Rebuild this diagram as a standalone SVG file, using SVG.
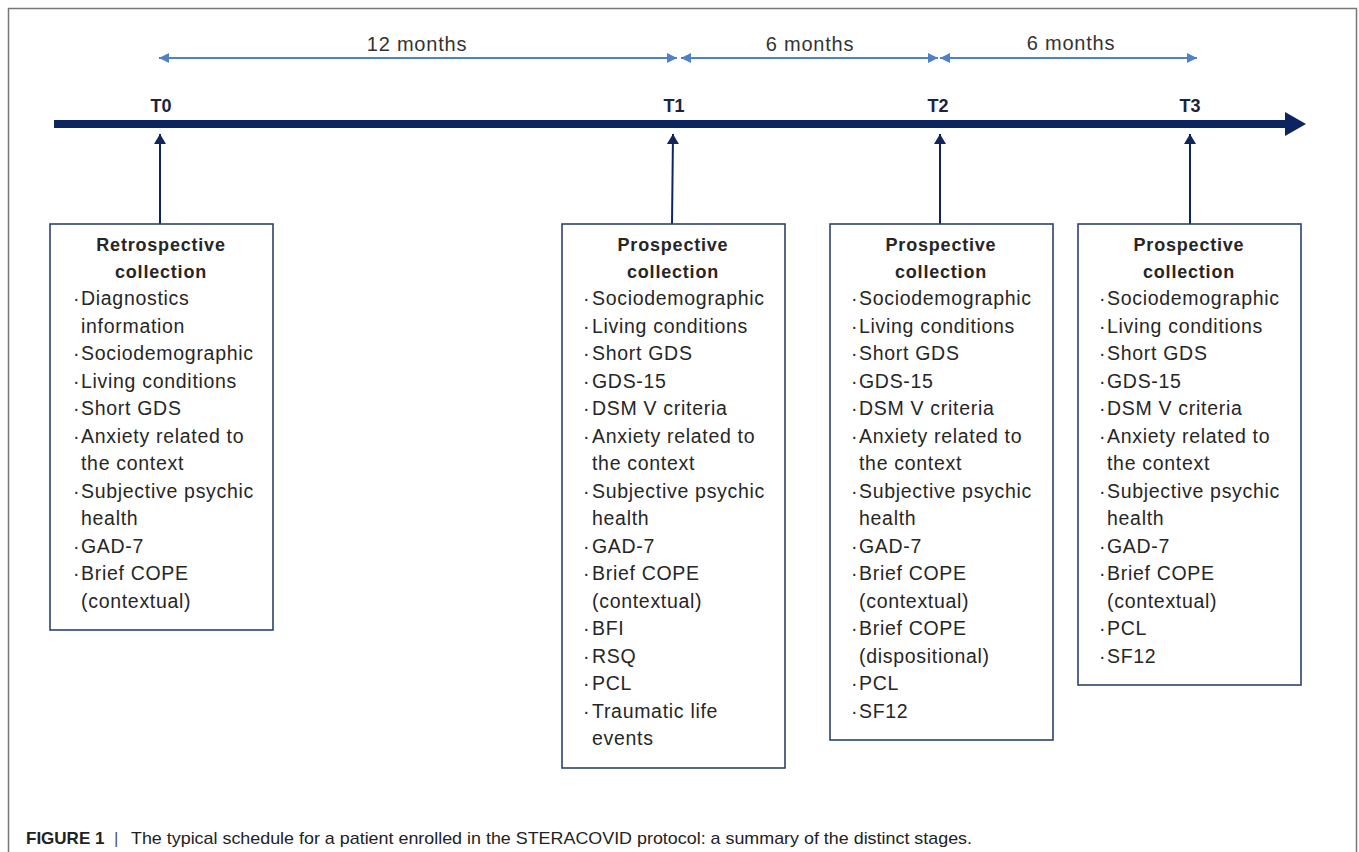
<svg xmlns="http://www.w3.org/2000/svg" width="1359" height="852" viewBox="0 0 1359 852">
<defs>
<marker id="dim" viewBox="0 0 10 10" refX="10" refY="5" markerWidth="10" markerHeight="10" markerUnits="userSpaceOnUse" orient="auto-start-reverse"><path d="M0,0 L10,5 L0,10 Z" fill="#4f81c7"/></marker>
<marker id="up" viewBox="0 0 10 12" refX="10" refY="6" markerWidth="12" markerHeight="12" markerUnits="userSpaceOnUse" orient="auto"><path d="M0,0 L10,6 L0,12 Z" fill="#10265a"/></marker>
<style>
.box{fill:#fff;stroke:#2c426e;stroke-width:1.6}
.t{font-family:"Liberation Sans",Arial,sans-serif;font-size:19.5px;fill:#262626;letter-spacing:0.7px}
.b{font-family:"Liberation Sans",Arial,sans-serif;font-size:19.5px;fill:#262626}
.h{font-family:"Liberation Sans",Arial,sans-serif;font-size:18px;font-weight:bold;fill:#262626;text-anchor:middle;letter-spacing:0.8px}
.lbl{font-family:"Liberation Sans",Arial,sans-serif;font-size:20px;fill:#333;text-anchor:middle;letter-spacing:0.8px}
.tl{font-family:"Liberation Sans",Arial,sans-serif;font-size:18px;font-weight:bold;fill:#1a2440;text-anchor:middle}
.dimline{stroke:#4f81c7;stroke-width:2;fill:none}
.upl{stroke:#10265a;stroke-width:2;fill:none}
</style>
</defs>
<rect x="8.5" y="8.5" width="1348" height="900" fill="#fff" stroke="#777" stroke-width="1.5"/>

<g id="timeline">
<line x1="54" y1="124" x2="1288" y2="124" stroke="#0c2560" stroke-width="8"/>
<path d="M1285,112 L1306,124 L1285,136 Z" fill="#0c2560"/>
</g>

<g id="durations">
<line class="dimline" x1="159" y1="58" x2="677" y2="58" marker-start="url(#dim)" marker-end="url(#dim)"/>
<line class="dimline" x1="681" y1="58" x2="938" y2="58" marker-start="url(#dim)" marker-end="url(#dim)"/>
<line class="dimline" x1="940" y1="58" x2="1197" y2="58" marker-start="url(#dim)" marker-end="url(#dim)"/>
<text class="lbl" x="417" y="51">12 months</text>
<text class="lbl" x="810" y="51">6 months</text>
<text class="lbl" x="1071" y="50">6 months</text>
</g>

<g id="labels">
<text class="tl" x="161" y="112">T0</text>
<text class="tl" x="674" y="112">T1</text>
<text class="tl" x="938" y="112">T2</text>
<text class="tl" x="1190" y="112">T3</text>
</g>

<g id="connectors">
<line class="upl" x1="160" y1="224" x2="160" y2="134" marker-end="url(#up)"/>
<line class="upl" x1="672" y1="224" x2="673" y2="134" marker-end="url(#up)"/>
<line class="upl" x1="940" y1="224" x2="940" y2="134" marker-end="url(#up)"/>
<line class="upl" x1="1190" y1="224" x2="1190" y2="134" marker-end="url(#up)"/>
</g>

<g id="box-t0">
<rect class="box" x="50" y="224" width="223" height="406"/>
<text class="h" x="161" y="251">Retrospective</text>
<text class="h" x="161" y="278">collection</text>
<g class="b"><text x="73" y="305">·</text><text x="73" y="360">·</text><text x="73" y="388">·</text><text x="73" y="415">·</text><text x="73" y="443">·</text><text x="73" y="498">·</text><text x="73" y="553">·</text><text x="73" y="580">·</text></g>
<text class="t" x="81" y="305">Diagnostics</text>
<text class="t" x="81" y="333">information</text>
<text class="t" x="81" y="360">Sociodemographic</text>
<text class="t" x="81" y="388">Living conditions</text>
<text class="t" x="81" y="415">Short GDS</text>
<text class="t" x="81" y="443">Anxiety related to</text>
<text class="t" x="81" y="470">the context</text>
<text class="t" x="81" y="498">Subjective psychic</text>
<text class="t" x="81" y="525">health</text>
<text class="t" x="81" y="553">GAD-7</text>
<text class="t" x="81" y="580">Brief COPE</text>
<text class="t" x="81" y="608">(contextual)</text>
</g>

<g id="box-t1">
<rect class="box" x="562" y="224" width="223" height="544"/>
<text class="h" x="673" y="251">Prospective</text>
<text class="h" x="673" y="278">collection</text>
<g class="b"><text x="583" y="305">·</text><text x="583" y="333">·</text><text x="583" y="360">·</text><text x="583" y="388">·</text><text x="583" y="415">·</text><text x="583" y="443">·</text><text x="583" y="498">·</text><text x="583" y="553">·</text><text x="583" y="580">·</text><text x="583" y="635">·</text><text x="583" y="663">·</text><text x="583" y="690">·</text><text x="583" y="718">·</text></g>
<text class="t" x="592" y="305">Sociodemographic</text>
<text class="t" x="592" y="333">Living conditions</text>
<text class="t" x="592" y="360">Short GDS</text>
<text class="t" x="592" y="388">GDS-15</text>
<text class="t" x="592" y="415">DSM V criteria</text>
<text class="t" x="592" y="443">Anxiety related to</text>
<text class="t" x="592" y="470">the context</text>
<text class="t" x="592" y="498">Subjective psychic</text>
<text class="t" x="592" y="525">health</text>
<text class="t" x="592" y="553">GAD-7</text>
<text class="t" x="592" y="580">Brief COPE</text>
<text class="t" x="592" y="608">(contextual)</text>
<text class="t" x="592" y="635">BFI</text>
<text class="t" x="592" y="663">RSQ</text>
<text class="t" x="592" y="690">PCL</text>
<text class="t" x="592" y="718">Traumatic life</text>
<text class="t" x="592" y="745">events</text>
</g>

<g id="box-t2">
<rect class="box" x="830" y="224" width="223" height="516"/>
<text class="h" x="941" y="251">Prospective</text>
<text class="h" x="941" y="278">collection</text>
<g class="b"><text x="851" y="305">·</text><text x="851" y="333">·</text><text x="851" y="360">·</text><text x="851" y="388">·</text><text x="851" y="415">·</text><text x="851" y="443">·</text><text x="851" y="498">·</text><text x="851" y="553">·</text><text x="851" y="580">·</text><text x="851" y="635">·</text><text x="851" y="690">·</text><text x="851" y="718">·</text></g>
<text class="t" x="859" y="305">Sociodemographic</text>
<text class="t" x="859" y="333">Living conditions</text>
<text class="t" x="859" y="360">Short GDS</text>
<text class="t" x="859" y="388">GDS-15</text>
<text class="t" x="859" y="415">DSM V criteria</text>
<text class="t" x="859" y="443">Anxiety related to</text>
<text class="t" x="859" y="470">the context</text>
<text class="t" x="859" y="498">Subjective psychic</text>
<text class="t" x="859" y="525">health</text>
<text class="t" x="859" y="553">GAD-7</text>
<text class="t" x="859" y="580">Brief COPE</text>
<text class="t" x="859" y="608">(contextual)</text>
<text class="t" x="859" y="635">Brief COPE</text>
<text class="t" x="859" y="663">(dispositional)</text>
<text class="t" x="859" y="690">PCL</text>
<text class="t" x="859" y="718">SF12</text>
</g>

<g id="box-t3">
<rect class="box" x="1078" y="224" width="223" height="461"/>
<text class="h" x="1189" y="251">Prospective</text>
<text class="h" x="1189" y="278">collection</text>
<g class="b"><text x="1099" y="305">·</text><text x="1099" y="333">·</text><text x="1099" y="360">·</text><text x="1099" y="388">·</text><text x="1099" y="415">·</text><text x="1099" y="443">·</text><text x="1099" y="498">·</text><text x="1099" y="553">·</text><text x="1099" y="580">·</text><text x="1099" y="635">·</text><text x="1099" y="663">·</text></g>
<text class="t" x="1107" y="305">Sociodemographic</text>
<text class="t" x="1107" y="333">Living conditions</text>
<text class="t" x="1107" y="360">Short GDS</text>
<text class="t" x="1107" y="388">GDS-15</text>
<text class="t" x="1107" y="415">DSM V criteria</text>
<text class="t" x="1107" y="443">Anxiety related to</text>
<text class="t" x="1107" y="470">the context</text>
<text class="t" x="1107" y="498">Subjective psychic</text>
<text class="t" x="1107" y="525">health</text>
<text class="t" x="1107" y="553">GAD-7</text>
<text class="t" x="1107" y="580">Brief COPE</text>
<text class="t" x="1107" y="608">(contextual)</text>
<text class="t" x="1107" y="635">PCL</text>
<text class="t" x="1107" y="663">SF12</text>
</g>

<g id="caption" font-family="Liberation Sans, Arial, sans-serif" font-size="17" fill="#222">
<text x="26" y="844" font-weight="bold">FIGURE 1</text>
<text x="114" y="844" fill="#555">|</text>
<text x="131" y="844" textLength="841" lengthAdjust="spacingAndGlyphs">The typical schedule for a patient enrolled in the STERACOVID protocol: a summary of the distinct stages.</text>
</g>
</svg>
